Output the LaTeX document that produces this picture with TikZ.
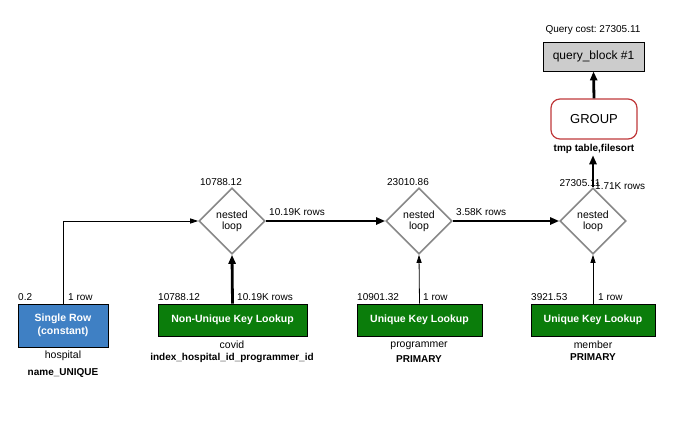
\documentclass[tikz,border=0pt]{standalone}
\usepackage{fontspec}
\setmainfont{Liberation Sans}
\frenchspacing
\usetikzlibrary{shapes.geometric}
\usetikzlibrary{arrows.meta}
\usetikzlibrary{positioning}

\definecolor{rowblue}{HTML}{3F80C4}
\definecolor{keygreen}{HTML}{0B7D0B}
\definecolor{blockgray}{HTML}{CCCCCC}
\definecolor{loopgray}{HTML}{888888}
\definecolor{groupred}{HTML}{C0393B}

\tikzset{
  lbl/.style={inner sep=0pt, anchor=base west, font=\fontsize{10}{12}\selectfont},
  sub/.style={inner sep=0pt, anchor=base, font=\fontsize{10.5}{12}\selectfont},
  subbold/.style={inner sep=0pt, anchor=base, font=\fontsize{10}{12}\selectfont\bfseries},
  access/.style={draw=black, line width=0.8pt, text=white, inner sep=0pt,
    font=\fontsize{10.5}{12.5}\selectfont\bfseries, align=center},
  loop/.style={diamond, draw=loopgray, line width=1.6pt, inner sep=0pt,
    minimum width=66pt, minimum height=66pt, align=center,
    font=\fontsize{10.5}{11}\selectfont},
  thin/.style={line width=0.8pt, -{Triangle[length=8pt,width=5pt]}},
  thick/.style={line width=2.8pt, -{Triangle[length=9pt,width=7pt]}}
}

\begin{document}
\begin{tikzpicture}[x=1pt,y=-1pt]
\useasboundingbox (0,0) rectangle (691,423);

% table access boxes
\node[access, fill=rowblue, minimum width=90pt, minimum height=43pt] (hosp) at (63,325.5) {Single Row\\(constant)};
\node[access, fill=keygreen, minimum width=149pt, minimum height=32pt] (covid) at (232.5,320) {Non-Unique Key Lookup};
\node[access, fill=keygreen, minimum width=125pt, minimum height=32pt] (prog) at (419.5,320) {Unique Key Lookup};
\node[access, fill=keygreen, minimum width=124pt, minimum height=32pt] (memb) at (593,320) {Unique Key Lookup};

% nested loops
\node[loop] (loop1) at (232,221) {nested\\loop};
\node[loop] (loop2) at (419,221) {nested\\loop};
\node[loop] (loop3) at (593,221) {nested\\loop};

% top
\node[draw=groupred, line width=1.2pt, rounded corners=9pt, fill=white,
  minimum width=86pt, minimum height=40pt, inner sep=0pt,
  font=\fontsize{13}{15}\selectfont] (group) at (594,119) {GROUP};
\node[draw=black, line width=0.8pt, fill=blockgray, minimum width=101pt,
  minimum height=29pt, inner sep=0pt,
  font=\fontsize{12}{14}\selectfont] (qblock) at (593.5,56.5) {query\_block \#1};
\node[inner sep=0pt, anchor=base, font=\fontsize{10}{12}\selectfont\bfseries] (gsort) at (594,151) {tmp table,filesort};

% connectors
\draw[thin] (hosp.north) |- (loop1.west);
\draw[thick] (covid.north) -- (loop1.south);
\draw[thick] (loop1.east) -- (loop2.west);
\draw[thin] (prog.north) -- (loop2.south);
\draw[thick] (loop2.east) -- (loop3.west);
\draw[thin] (memb.north) -- (loop3.south);
\draw[thick, shorten >=2pt] (loop3.north) -- (loop3.north |- gsort.south);
\draw[thick] (group.north) -- (qblock.south);

% costs and rows
\node[lbl] (c0) at (18,300) {0.2};
\node[lbl] (r0) at (68,300) {1 row};
\node[lbl] (c1) at (158,300) {10788.12};
\node[lbl] (r1) at (237,300) {10.19K rows};
\node[lbl] (c2) at (357,300) {10901.32};
\node[lbl] (r2) at (423,300) {1 row};
\node[lbl] (c3) at (531,300) {3921.53};
\node[lbl] (r3) at (598,300) {1 row};

\node[lbl, anchor=base] (lc1) at (221,185) {10788.12};
\node[lbl] (lr1) at (269,215) {10.19K rows};
\node[lbl, anchor=base] (lc2) at (408,185) {23010.86};
\node[lbl] (lr2) at (456,215) {3.58K rows};
\node[lbl, anchor=base] (lc3) at (580,186) {27305.11};
\node[lbl] (lr3) at (595,189) {1.71K rows};

\node[lbl, anchor=base] (qcost) at (593,32) {Query cost: 27305.11};

% table names and keys
\node[sub] (t1) at (63,358) {hospital};
\node[subbold] (k1) at (63,375) {name\_UNIQUE};
\node[sub] (t2) at (232,348) {covid};
\node[subbold] (k2) at (232,360) {index\_hospital\_id\_programmer\_id};
\node[sub] (t3) at (419,347) {programmer};
\node[subbold] (k3) at (419,362) {PRIMARY};
\node[sub] (t4) at (593,348) {member};
\node[subbold] (k4) at (593,360) {PRIMARY};

\end{tikzpicture}
\end{document}
